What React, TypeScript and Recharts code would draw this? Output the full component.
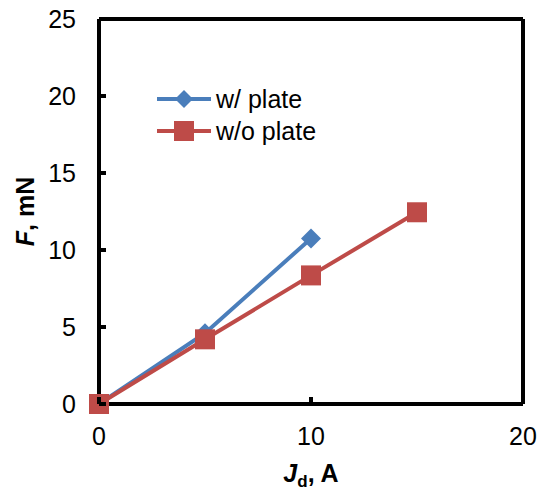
import { Legend, Line, LineChart, ReferenceLine, XAxis, YAxis } from "recharts";

const J_PLATE = [0, 5, 10];
const F_PLATE = [0, 4.6, 10.75];
const J_NO_PLATE = [0, 5, 10, 15];
const F_NO_PLATE = [0, 4.2, 8.35, 12.45];
const X_TICKS = [0, 10, 20];
const Y_TICKS = [0, 5, 10, 15, 20, 25];

const BLUE = "#4a7ebb";
const RED = "#be4b48";
const FONT = "'Liberation Sans', Arial, sans-serif";
const AXIS_W = 4;
const AXIS_LINE = { stroke: "#000", strokeWidth: AXIS_W };
const GAP = 23; // label gap from axis
const TICK_LEN = 7; // inward ticks

const plateData = J_PLATE.map((j, i) => ({ j, f: F_PLATE[i] }));
const noPlateData = J_NO_PLATE.map((j, i) => ({ j, f: F_NO_PLATE[i] }));

const diamond = (cx: number, cy: number, r: number, key?: any) => (
  <polygon key={key} points={`${cx},${cy - r} ${cx + r},${cy} ${cx},${cy + r} ${cx - r},${cy}`} fill={BLUE} />
);
const square = (cx: number, cy: number, r: number, key?: any) => (
  <rect key={key} x={cx - r} y={cy - r} width={2 * r} height={2 * r} fill={RED} />
);

function YTick({ x, y, payload }: any) {
  return (
    <g>
      <line x1={x + GAP} x2={x + GAP + TICK_LEN} y1={y} y2={y} stroke="#000" strokeWidth={AXIS_W} />
      <text x={x} y={y} dy="0.36em" textAnchor="end" fontFamily={FONT} fontSize={25} fill="#000">
        {payload.value}
      </text>
    </g>
  );
}

function XTick({ x, y, payload }: any) {
  return (
    <g>
      <line x1={x} x2={x} y1={y - GAP} y2={y - GAP - TICK_LEN} stroke="#000" strokeWidth={AXIS_W} />
      <text x={x} y={y} dy="0.72em" textAnchor="middle" fontFamily={FONT} fontSize={25} fill="#000">
        {payload.value}
      </text>
    </g>
  );
}

function LegendBox({ payload }: any) {
  return (
    <div style={{ fontFamily: FONT, fontSize: 25, color: "#000" }}>
      {(payload || []).map((p: any, i: number) => (
        <div key={i} style={{ display: "flex", alignItems: "center", height: 32 }}>
          <svg width={58} height={32}>
            <line x1={2} x2={56} y1={16} y2={16} stroke={p.color} strokeWidth={4} />
            {i === 0 ? diamond(29, 16, 9) : square(29, 16, 10)}
          </svg>
          <span style={{ marginLeft: 3 }}>{p.value}</span>
        </div>
      ))}
    </div>
  );
}

function YTitle({ viewBox }: any) {
  const cx = viewBox.x + 34;
  const cy = viewBox.y + viewBox.height / 2;
  return (
    <text
      x={cx}
      y={cy}
      transform={`rotate(-90, ${cx}, ${cy})`}
      textAnchor="middle"
      fontFamily={FONT}
      fontSize={25}
      fontWeight="bold"
      fill="#000"
    >
      <tspan fontStyle="italic">F</tspan>, mN
    </text>
  );
}

function XTitle({ viewBox }: any) {
  const cx = viewBox.x + viewBox.width / 2;
  const y = viewBox.y + 78;
  return (
    <text x={cx} y={y} textAnchor="middle" fontFamily={FONT} fontSize={25} fontWeight="bold" fill="#000">
      <tspan fontStyle="italic">J</tspan>
      <tspan fontSize={17} dy={5}>d</tspan>
      <tspan dy={-5}>, A</tspan>
    </text>
  );
}

export default function App() {
  return (
    <div style={{ position: "absolute", left: 0, top: 0, background: "#fff" }}>
      <LineChart width={540} height={490} margin={{ top: 19, right: 17, bottom: 0, left: 0 }}>
        <XAxis
          type="number"
          dataKey="j"
          domain={[0, 20]}
          ticks={X_TICKS}
          height={86}
          tick={<XTick />}
          tickSize={0}
          tickMargin={GAP}
          tickLine={false}
          axisLine={AXIS_LINE}
          label={<XTitle />}
        />
        <YAxis
          type="number"
          domain={[0, 25]}
          ticks={Y_TICKS}
          width={99}
          tick={<YTick />}
          tickSize={0}
          tickMargin={GAP}
          tickLine={false}
          axisLine={AXIS_LINE}
          label={<YTitle />}
        />
        <ReferenceLine y={25} stroke="#000" strokeWidth={AXIS_W} />
        <ReferenceLine x={20} stroke="#000" strokeWidth={AXIS_W} />
        <Legend
          layout="vertical"
          align="center"
          verticalAlign="middle"
          wrapperStyle={{ left: 155, top: 83, width: 200 }}
          content={<LegendBox />}
        />
        <Line
          data={plateData}
          dataKey="f"
          name="w/ plate"
          stroke={BLUE}
          strokeWidth={4}
          dot={(p: any) => diamond(p.cx, p.cy, 10, p.index)}
          activeDot={false}
          isAnimationActive={false}
        />
        <Line
          data={noPlateData}
          dataKey="f"
          name="w/o plate"
          stroke={RED}
          strokeWidth={4}
          dot={(p: any) => square(p.cx, p.cy, 10, p.index)}
          activeDot={false}
          isAnimationActive={false}
        />
      </LineChart>
    </div>
  );
}
